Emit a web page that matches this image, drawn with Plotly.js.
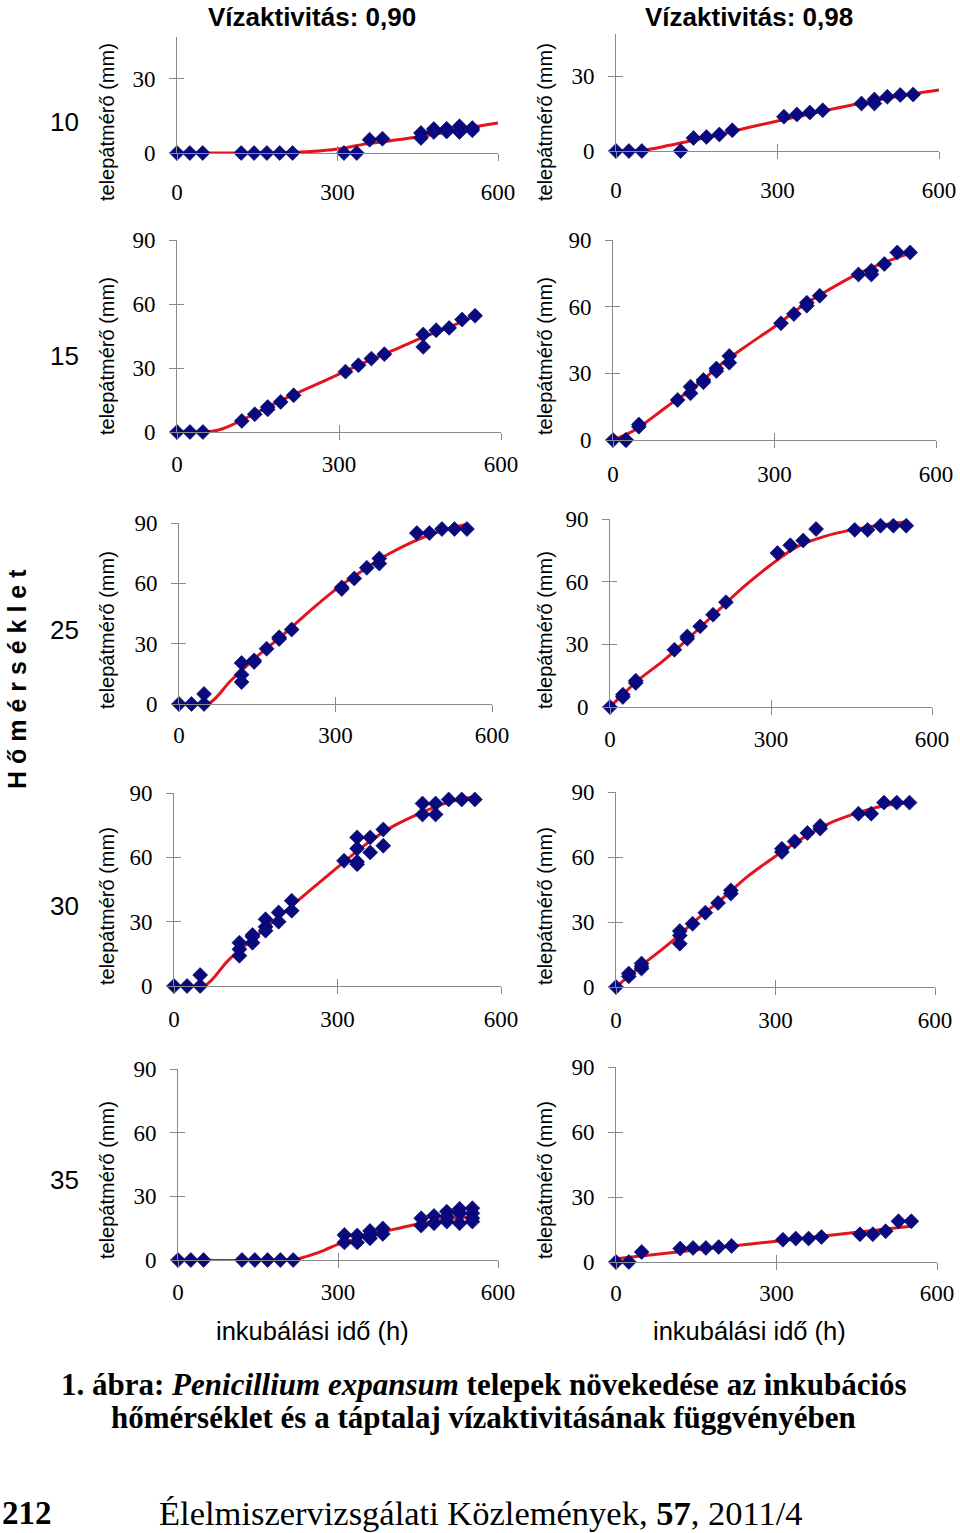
<!DOCTYPE html>
<html><head><meta charset="utf-8">
<script src="https://cdn.plot.ly/plotly-3.0.1.min.js"></script>
<style>html,body{margin:0;padding:0;background:#fff}</style>
</head><body><div id="chart" style="width:960px;height:1533px"></div>
<script>
// ---------- DATA (incubation time in h, colony diameter in mm) ----------
const colHeaders = ["Vízaktivitás: 0,90", "Vízaktivitás: 0,98"];
const rowTemps = ["10", "15", "25", "30", "35"];
const yTitle = "telepátmérő (mm)";
const xTitle = "inkubálási idő (h)";
const sideTitle = "H ő m é r s é k l e t";
const xTicks = [0, 300, 600];
const yTicksTop = [0, 30];
const yTicks = [0, 30, 60, 90];

// 10 °C, aw 0.90
const t10a90_obsX = [0,24,48,120,144,168,192,216,312,336,360,384,456,456,480,480,504,504,528,528,552,552];
const t10a90_obsY = [0,0,0,0,0,0,0,0,0,0,5.4,5.8,8.1,6.1,9.7,8.5,9.8,8.7,10.8,8.5,10.1,9.2];
const t10a90_fitX = [0,100,150,200,250,300,350,400,450,500,550,600];
const t10a90_fitY = [0,0,0.05,0.2,0.6,1.6,3.6,5.0,6.5,8.3,10.4,12.2];
// 10 °C, aw 0.98
const t10a98_obsX = [0,24,48,120,144,168,192,216,312,336,360,384,456,480,480,504,528,552];
const t10a98_obsY = [0,0,0,0,5.2,5.6,6.6,8.3,13.7,14.6,15.4,16.3,19,20.6,19,21.7,22.4,22.6];
const t10a98_fitX = [0,50,100,150,200,250,300,350,400,450,500,550,600];
const t10a98_fitY = [0,0.3,2.3,4.6,7,9.6,12,14.3,16.7,18.9,21,22.8,24.4];
// 15 °C, aw 0.90
const t15a90_obsX = [0,24,48,120,144,168,168,192,216,312,336,360,384,456,456,480,504,528,552];
const t15a90_obsY = [0,0,0,5.2,8.3,11.7,10.6,14.1,17.2,28.3,31.3,34.4,36.5,45.7,39.9,47.7,48.8,52.7,54.5];
const t15a90_fitX = [0,50,75,100,150,200,250,300,350,400,450,500,555];
const t15a90_fitY = [0,0,0.8,3.1,9.4,15.6,21.4,27.1,32.9,38.3,43.8,48.7,54.8];
// 15 °C, aw 0.98
const t15a98_obsX = [0,24,24,48,48,120,144,144,168,168,192,192,216,216,312,336,360,360,384,456,480,480,504,528,552];
const t15a98_obsY = [0,0,0,6,7,18,24,21,27,26,32.2,31,37.8,34.8,52.5,56.7,61.8,60.4,64.9,74.5,76.2,74.5,79.2,84.4,84.4];
const t15a98_fitX = [0,25,50,100,150,200,250,300,350,400,450,500,555];
const t15a98_fitY = [0,2.5,6,15,23.5,33.9,42.7,51,60.1,67.5,74.2,79.5,84.3];
// 25 °C, aw 0.90
const t25a90_obsX = [0,24,48,48,120,120,120,144,144,168,192,192,216,312,312,336,360,384,384,456,480,504,528,552];
const t25a90_obsY = [0,0,0,5,20.4,14.6,10.9,21.7,20.9,27.5,33.2,32.3,37,58,57.2,62.4,67.7,72.4,69.8,85,85,87,87,87];
const t25a90_fitX = [0,55,100,150,200,250,300,350,400,450,500,555];
const t25a90_fitY = [0,0,11.8,23.7,34.5,46.1,56.9,66,74.3,80.9,85.9,89.6];
// 25 °C, aw 0.98
const t25a98_obsX = [0,24,24,48,48,120,144,144,168,192,216,312,336,360,384,456,480,504,528,552];
const t25a98_obsY = [0,5.9,4.8,11.5,12.6,27.4,33.8,32.7,38.6,44.2,50.2,73.7,77.4,79.7,85.2,84.8,84.8,86.8,86.8,86.8];
const t25a98_fitX = [0,50,100,150,200,250,300,350,400,450,500,555];
const t25a98_fitY = [0,12.3,22.3,33.8,45.8,57.7,68.1,76.9,81.7,84.8,86.9,88.8];
// 30 °C, aw 0.90
const t30a90_obsX = [0,24,48,48,120,120,120,144,144,144,168,168,168,192,192,216,216,312,336,336,336,336,360,360,384,384,456,456,480,480,504,528,552];
const t30a90_obsY = [0,0,0,5.1,20.2,17.1,14.1,23.8,23,20.2,31.1,27.6,25.8,34.3,30,39.8,35.1,58.4,69.3,64.1,57.9,56.8,69.3,62.3,73,65.4,85.1,80,85.1,80,87,87,87];
const t30a90_fitX = [0,55,100,150,200,250,300,350,400,450,500,555];
const t30a90_fitY = [0,0,12.1,23,33.9,44.7,55.3,65.7,74.2,80.4,85.4,88.5];
// 30 °C, aw 0.98
const t30a98_obsX = [0,24,24,48,48,48,120,120,120,144,168,192,216,216,312,312,336,360,384,384,456,480,504,528,552];
const t30a98_obsY = [0,4.9,6.2,8.5,9.5,10.8,25.8,23.8,20,29.2,34.3,38.8,44.6,43.1,63.8,62.3,67.2,71.1,74.3,73.1,80,80,85.1,85.1,85.1];
const t30a98_fitX = [0,50,100,150,200,250,300,350,400,450,500,555];
const t30a98_fitY = [0,10.3,20,30.8,40.8,51.5,60.3,68.5,75.4,80,83.4,85.4];
// 35 °C, aw 0.90
const t35a90_obsX = [0,24,48,120,144,168,192,216,312,312,336,336,360,360,360,384,384,456,456,480,480,504,504,504,528,528,528,552,552,552,552];
const t35a90_obsY = [0,0,0,0,0,0,0,0,11.8,8.3,11.5,8.3,13.7,10.2,11.8,14.9,12.3,19.7,16.2,20.8,17.3,22.8,18.1,20.5,24.1,22,17.3,24.4,22,19.7,18.1];
const t35a90_fitX = [0,200,225,250,275,300,350,400,450,500,555];
const t35a90_fitY = [0,0,0.6,2.4,4.7,7.4,11,14.2,17,19.2,20.5];
// 35 °C, aw 0.98
const t35a98_obsX = [0,24,48,120,144,168,192,216,312,336,360,384,456,480,504,528,552];
const t35a98_obsY = [0,0,4.6,6.2,6.5,6.5,6.9,7.4,10.3,10.8,10.8,11.5,12.8,12.8,14.2,18.8,18.8];
const t35a98_fitX = [0,300,555];
const t35a98_fitY = [1.5,9.6,16.6];

// ---------- LAYOUT GEOMETRY (pixels) ----------
const W = 960, H = 1533;
// box: [left(x=0), right(x=600), top, bottom(y=0)]; sx: x tick label standoff
const panels = [
  {obsX:t10a90_obsX, obsY:t10a90_obsY, fitX:t10a90_fitX, fitY:t10a90_fitY, box:[177,498,37,153], ymax:47, yt:yTicksTop, sx:11},
  {obsX:t10a98_obsX, obsY:t10a98_obsY, fitX:t10a98_fitX, fitY:t10a98_fitY, box:[616,939,33.5,151], ymax:47, yt:yTicksTop, sx:11},
  {obsX:t15a90_obsX, obsY:t15a90_obsY, fitX:t15a90_fitX, fitY:t15a90_fitY, box:[177,501,240,432], ymax:90, yt:yTicks, sx:4},
  {obsX:t15a98_obsX, obsY:t15a98_obsY, fitX:t15a98_fitX, fitY:t15a98_fitY, box:[613,936,240,440], ymax:90, yt:yTicks, sx:6},
  {obsX:t25a90_obsX, obsY:t25a90_obsY, fitX:t25a90_fitX, fitY:t25a90_fitY, box:[179,492,523,704], ymax:90, yt:yTicks, sx:3},
  {obsX:t25a98_obsX, obsY:t25a98_obsY, fitX:t25a98_fitX, fitY:t25a98_fitY, box:[610,932,519,707], ymax:90, yt:yTicks, sx:4},
  {obsX:t30a90_obsX, obsY:t30a90_obsY, fitX:t30a90_fitX, fitY:t30a90_fitY, box:[174,501,793,986], ymax:90, yt:yTicks, sx:5},
  {obsX:t30a98_obsX, obsY:t30a98_obsY, fitX:t30a98_fitX, fitY:t30a98_fitY, box:[616,935,792,987], ymax:90, yt:yTicks, sx:5},
  {obsX:t35a90_obsX, obsY:t35a90_obsY, fitX:t35a90_fitX, fitY:t35a90_fitY, box:[178,498,1069,1260], ymax:90, yt:yTicks, sx:4},
  {obsX:t35a98_obsX, obsY:t35a98_obsY, fitX:t35a98_fitX, fitY:t35a98_fitY, box:[616,937,1067,1262], ymax:90, yt:yTicks, sx:3}
];
const rowCenters = [122, 356, 630, 906, 1180];
const colCenters = [312, 749];
const yTitleX = [107, 545];

const AX = '#8a8a8a';
const serif = 'Liberation Serif, Times New Roman, serif';
const sans = 'Liberation Sans, Arial, sans-serif';

const traces = [];
const layout = {
  width: W, height: H, margin: {l:0, r:0, t:0, b:0},
  paper_bgcolor: '#fff', plot_bgcolor: 'rgba(0,0,0,0)',
  showlegend: false, annotations: []
};

panels.forEach((p, k) => {
  const i = k + 1, o = k + 11;
  const [x0, x1, yt, yb] = p.box;
  const xd = [x0 / W, x1 / W], yd = [1 - yb / H, 1 - yt / H];
  traces.push({x: p.fitX, y: p.fitY, xaxis: 'x' + i, yaxis: 'y' + i, mode: 'lines',
    line: {color: '#e3141c', width: 3, shape: 'spline'}, hoverinfo: 'skip'});
  traces.push({x: p.obsX, y: p.obsY, xaxis: 'x' + i, yaxis: 'y' + i, mode: 'markers', cliponaxis: false,
    marker: {symbol: 'diamond', size: 11.5, color: '#0a0a80', line: {color: '#000060', width: 0.6}}});
  traces.push({x: [], y: [], xaxis: 'x' + o, yaxis: 'y' + o, mode: 'markers', hoverinfo: 'skip'});
  const common = {showgrid: false, zeroline: false, fixedrange: true, tickcolor: AX, tickwidth: 1};
  layout['xaxis' + i] = Object.assign({}, common, {domain: xd, range: [0, 600], anchor: 'y' + i,
    tickvals: xTicks, ticktext: xTicks.map(String), ticks: 'outside', ticklen: 7,
    showline: true, linecolor: AX, linewidth: 1, ticklabelstandoff: p.sx,
    tickfont: {family: serif, size: 23, color: '#000'}});
  layout['yaxis' + i] = Object.assign({}, common, {domain: yd, range: [0, p.ymax], anchor: 'x' + i,
    tickvals: p.yt, ticktext: p.yt.map(String), ticks: 'outside', ticklen: 7,
    showline: true, linecolor: AX, linewidth: 1, ticklabelstandoff: 9,
    tickfont: {family: serif, size: 23, color: '#000'}});
  layout['xaxis' + o] = Object.assign({}, common, {overlaying: 'x' + i, anchor: 'y' + o, range: [0, 600],
    tickvals: xTicks.slice(1), ticks: 'inside', ticklen: 7, showticklabels: false, showline: false});
  layout['yaxis' + o] = Object.assign({}, common, {overlaying: 'y' + i, anchor: 'x' + o, range: [0, p.ymax],
    tickvals: p.yt.slice(1), ticks: 'inside', ticklen: 7, showticklabels: false, showline: false});
});

function ann(text, px, py, font, extra) {
  layout.annotations.push(Object.assign({text: text, x: px / W, y: 1 - py / H, xref: 'paper', yref: 'paper',
    showarrow: false, xanchor: 'center', yanchor: 'middle', font: font}, extra || {}));
}
colHeaders.forEach((t, c) => ann('<b>' + t + '</b>', colCenters[c], 17, {family: sans, size: 26, color: '#000'}));
rowTemps.forEach((t, r) => {
  ann(t, 64, rowCenters[r], {family: sans, size: 26, color: '#000'});
  yTitleX.forEach(x => ann(yTitle, x, rowCenters[r], {family: sans, size: 20, color: '#000'}, {textangle: -90}));
});
colCenters.forEach(x => ann(xTitle, x, 1331, {family: sans, size: 25.5, color: '#000'}));
ann('<b>' + sideTitle + '</b>', 17, 679, {family: sans, size: 25, color: '#000'}, {textangle: -90});
ann('<b>1. ábra: <i>Penicillium expansum</i> telepek növekedése az inkubációs</b>', 484, 1384, {family: serif, size: 31, color: '#000'});
ann('<b>hőmérséklet és a táptalaj vízaktivitásának függvényében</b>', 483, 1417, {family: serif, size: 31, color: '#000'});
ann('<b>212</b>', 0, 1513, {family: serif, size: 33, color: '#000'}, {xanchor: 'left'});
ann('Élelmiszervizsgálati Közlemények, <b>57</b>, 2011/4', 481, 1513, {family: serif, size: 34.5, color: '#000'});

Plotly.newPlot('chart', traces, layout, {staticPlot: true});
</script>
</body></html>
